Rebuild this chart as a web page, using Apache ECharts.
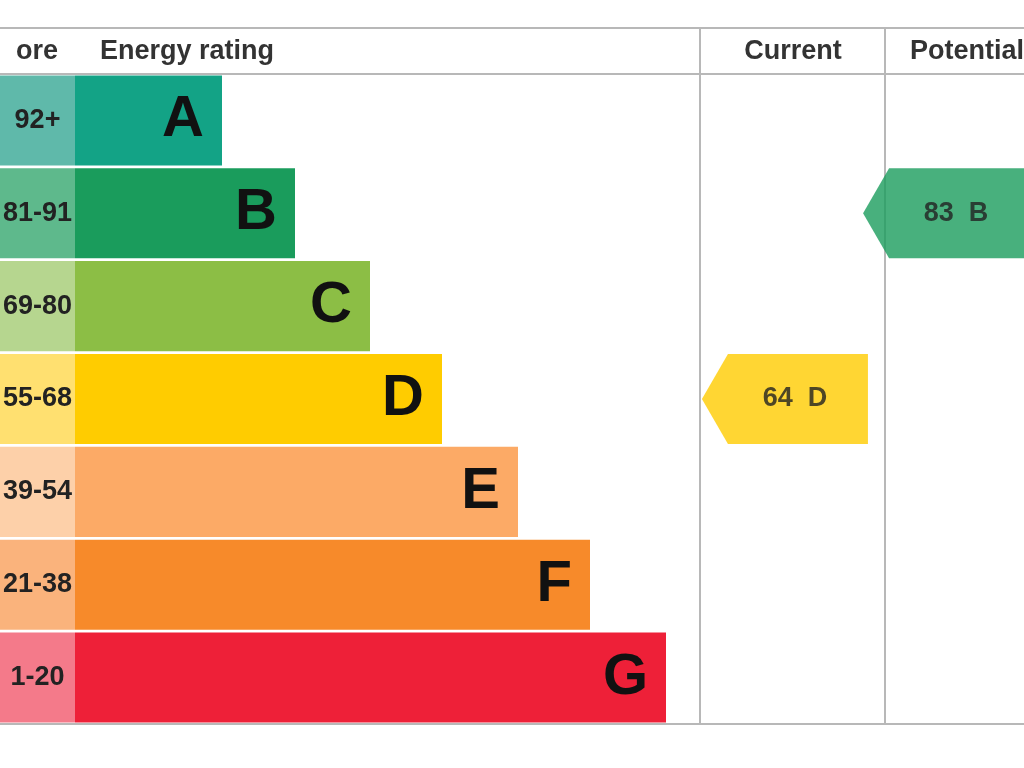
<!DOCTYPE html>
<html>
<head>
<meta charset="utf-8">
<script src="https://cdn.jsdelivr.net/npm/echarts@6/dist/echarts.min.js"></script>
<style>html,body{margin:0;padding:0;background:#fff}#chart{width:1024px;height:768px}</style>
</head>
<body>
<div id="chart"></div>
<script>
var bands = ['A', 'B', 'C', 'D', 'E', 'F', 'G'];
var scoreRanges = ['92+', '81-91', '69-80', '55-68', '39-54', '21-38', '1-20'];
var barLengths = [147, 220, 295, 367, 443, 515, 591];
var bandColors = ['#13a386', '#1a9c5c', '#8cbe45', '#ffcc00', '#fcaa66', '#f78a2a', '#ee2038'];
var scoreColors = ['#5fb9aa', '#5eb98c', '#b6d68f', '#ffe070', '#fdd0a9', '#fab37c', '#f47a8a'];
var currentRating = { score: 64, band: 'D' };
var potentialRating = { score: 83, band: 'B' };

var chart = echarts.init(document.getElementById('chart'));
var font = 'Liberation Sans, Arial, sans-serif';
var arrow = 'path://M0,45 L26,0 L166,0 L166,90 L26,90 Z';
var lineCol = '#b8b8b8';

function hline(y) {
	return { type: 'line', shape: { x1: 0, y1: y, x2: 1024, y2: y }, style: { stroke: lineCol, lineWidth: 2 } };
}
function vline(x) {
	return { type: 'line', shape: { x1: x, y1: 28, x2: x, y2: 724 }, style: { stroke: lineCol, lineWidth: 2 } };
}
function header(text, x, align) {
	return { type: 'text', x: x, y: 52, style: { text: text, font: 'bold 27px ' + font, fill: '#333', textAlign: align, textVerticalAlign: 'middle' } };
}

var option = {
	animation: false,
	grid: [
		{ left: -45, width: 120, top: 74, bottom: 44 },
		{ left: 75, width: 625, top: 74, bottom: 44 },
		{ left: 700, width: 370, top: 74, bottom: 44 }
	],
	xAxis: [
		{ gridIndex: 0, type: 'value', min: 0, max: 1, show: false },
		{ gridIndex: 1, type: 'value', min: 0, max: 625, show: false },
		{ gridIndex: 2, type: 'value', min: 0, max: 370, show: false }
	],
	yAxis: [0, 1, 2].map(function (i) {
		return { gridIndex: i, type: 'category', data: bands, inverse: true, show: false };
	}),
	series: [
		{
			type: 'bar', xAxisIndex: 0, yAxisIndex: 0, barCategoryGap: '3%',
			data: scoreRanges.map(function (r, i) {
				return { value: 1, itemStyle: { color: scoreColors[i] } };
			}),
			label: {
				show: true, position: 'inside', color: '#222', fontFamily: font, fontWeight: 'bold', fontSize: 27,
				formatter: function (p) { return scoreRanges[p.dataIndex]; }
			}
		},
		{
			type: 'bar', xAxisIndex: 1, yAxisIndex: 1, barCategoryGap: '3%',
			data: barLengths.map(function (v, i) {
				return { value: v, itemStyle: { color: bandColors[i] } };
			}),
			label: {
				show: true, position: 'insideRight', distance: 18, color: '#111', fontFamily: font, fontWeight: 'bold', fontSize: 58,
				formatter: function (p) { return bands[p.dataIndex]; }
			}
		},
		{
			type: 'scatter', xAxisIndex: 2, yAxisIndex: 2, symbol: arrow, symbolSize: [166, 90],
			data: [
				{ value: [97, currentRating.band], itemStyle: { color: bandColors[bands.indexOf(currentRating.band)] },
					label: { formatter: currentRating.score + '  ' + currentRating.band } },
				{ value: [281, potentialRating.band], itemStyle: { color: bandColors[bands.indexOf(potentialRating.band)] },
					label: { formatter: potentialRating.score + '  ' + potentialRating.band } }
			],
			label: { show: true, position: 'inside', offset: [10, 0], color: '#222', fontFamily: font, fontWeight: 'bold', fontSize: 27 }
		}
	],
	graphic: [
		hline(28), hline(74), hline(724), vline(700), vline(885),
		header('ore', 58, 'right'),
		header('Energy rating', 100, 'left'),
		header('Current', 793, 'center'),
		header('Potential', 910, 'left')
	]
};
chart.setOption(option);
</script>
</body>
</html>
